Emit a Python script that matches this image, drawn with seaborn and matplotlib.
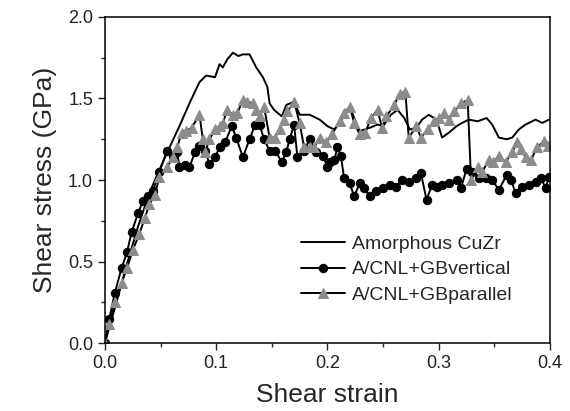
import numpy as np
import pandas as pd
import matplotlib
matplotlib.use('Agg')
import matplotlib.pyplot as plt
from matplotlib.ticker import AutoMinorLocator
import seaborn as sns

# Data
strain_amorph = [0, 0.01, 0.02, 0.03, 0.04, 0.045, 0.056, 0.067, 0.076, 0.085, 0.091, 0.099,
                 0.103, 0.106, 0.110, 0.115, 0.120, 0.124, 0.130, 0.136, 0.142, 0.146, 0.148,
                 0.152, 0.159, 0.163, 0.170, 0.175, 0.184, 0.193, 0.200, 0.206, 0.211, 0.220,
                 0.224, 0.229, 0.238, 0.245, 0.250, 0.257, 0.263, 0.269, 0.274, 0.280, 0.285,
                 0.291, 0.298, 0.303, 0.309, 0.316, 0.321, 0.327, 0.335, 0.343, 0.348, 0.354,
                 0.361, 0.366, 0.372, 0.378, 0.387, 0.393, 0.399]
stress_amorph = [0, 0.24, 0.49, 0.72, 0.92, 1.00, 1.17, 1.33, 1.47, 1.60, 1.64, 1.63,
                 1.71, 1.69, 1.74, 1.78, 1.76, 1.77, 1.77, 1.69, 1.63, 1.57, 1.47,
                 1.43, 1.39, 1.46, 1.48, 1.40, 1.40, 1.37, 1.33, 1.31, 1.35, 1.45,
                 1.38, 1.30, 1.32, 1.34, 1.33, 1.40, 1.43, 1.38, 1.31, 1.32, 1.37,
                 1.40, 1.37, 1.26, 1.29, 1.33, 1.35, 1.37, 1.36, 1.38, 1.34, 1.26,
                 1.25, 1.26, 1.31, 1.34, 1.37, 1.35, 1.37]

strain_vert = [0, 0.004, 0.009, 0.015, 0.020, 0.024, 0.030, 0.034, 0.039, 0.043, 0.049, 0.056,
               0.061, 0.065, 0.067, 0.072, 0.076, 0.081, 0.085, 0.090, 0.094, 0.099, 0.103,
               0.108, 0.114, 0.118, 0.124, 0.130, 0.135, 0.139, 0.143, 0.148, 0.153, 0.159,
               0.163, 0.166, 0.170, 0.173, 0.179, 0.184, 0.190, 0.196, 0.200, 0.202, 0.206,
               0.209, 0.212, 0.215, 0.220, 0.224, 0.229, 0.233, 0.238, 0.244, 0.250, 0.256,
               0.262, 0.267, 0.273, 0.280, 0.284, 0.289, 0.294, 0.298, 0.303, 0.309, 0.316,
               0.320, 0.325, 0.330, 0.336, 0.342, 0.348, 0.354, 0.361, 0.365, 0.369, 0.375,
               0.381, 0.387, 0.392, 0.396, 0.399]
stress_vert = [0, 0.15, 0.31, 0.46, 0.56, 0.68, 0.80, 0.87, 0.90, 0.93, 1.05, 1.18,
               1.15, 1.17, 1.08, 1.09, 1.08, 1.17, 1.21, 1.18, 1.10, 1.14, 1.20,
               1.23, 1.33, 1.26, 1.14, 1.25, 1.34, 1.34, 1.25, 1.18, 1.18, 1.11,
               1.17, 1.25, 1.34, 1.14, 1.18, 1.25, 1.17, 1.15, 1.08, 1.11, 1.12,
               1.20, 1.15, 1.01, 0.98, 0.90, 0.98, 0.95, 0.90, 0.93, 0.95, 0.97,
               0.96, 1.00, 0.99, 1.01, 1.04, 0.88, 0.97, 0.96, 0.97, 0.98, 1.00,
               0.95, 1.07, 1.05, 1.01, 1.01, 1.00, 0.94, 1.03, 1.00, 0.92, 0.96,
               0.97, 0.99, 1.01, 0.95, 1.02]

strain_par = [0, 0.004, 0.009, 0.015, 0.020, 0.025, 0.031, 0.036, 0.040, 0.045, 0.049, 0.056,
              0.061, 0.065, 0.069, 0.073, 0.078, 0.085, 0.088, 0.090, 0.094, 0.099, 0.103,
              0.106, 0.110, 0.115, 0.119, 0.124, 0.128, 0.133, 0.136, 0.139, 0.143, 0.148,
              0.153, 0.157, 0.161, 0.164, 0.170, 0.175, 0.179, 0.184, 0.188, 0.193, 0.199,
              0.204, 0.211, 0.215, 0.220, 0.224, 0.229, 0.234, 0.239, 0.245, 0.249, 0.253,
              0.260, 0.265, 0.270, 0.273, 0.280, 0.284, 0.290, 0.296, 0.300, 0.305, 0.309,
              0.314, 0.320, 0.326, 0.329, 0.335, 0.339, 0.345, 0.349, 0.354, 0.360, 0.366,
              0.370, 0.374, 0.378, 0.383, 0.388, 0.395, 0.398]
stress_par = [0, 0.12, 0.25, 0.37, 0.46, 0.57, 0.67, 0.77, 0.85, 0.91, 1.02, 1.08,
              1.14, 1.20, 1.29, 1.30, 1.32, 1.40, 1.25, 1.17, 1.25, 1.31, 1.33,
              1.35, 1.43, 1.40, 1.41, 1.49, 1.48, 1.47, 1.43, 1.39, 1.45, 1.26,
              1.26, 1.31, 1.37, 1.42, 1.48, 1.35, 1.20, 1.20, 1.20, 1.26, 1.23,
              1.28, 1.36, 1.41, 1.45, 1.35, 1.28, 1.29, 1.38, 1.43, 1.32, 1.39,
              1.46, 1.53, 1.54, 1.26, 1.33, 1.26, 1.31, 1.36, 1.38, 1.41, 1.37,
              1.42, 1.47, 1.49, 1.00, 1.08, 1.05, 1.12, 1.11, 1.15, 1.11, 1.17,
              1.23, 1.19, 1.14, 1.12, 1.20, 1.24, 1.21]

labels = ['Amorphous CuZr', 'A/CNL+GBvertical', 'A/CNL+GBparallel']

sns.set_style('ticks')
plt.rcParams['font.family'] = ['Liberation Sans', 'DejaVu Sans']

fig = plt.figure(figsize=(5.7, 4.11), dpi=100)
ax = fig.add_axes([0.184, 0.165, 0.781, 0.794])

sns.lineplot(x=strain_amorph, y=stress_amorph, sort=False, estimator=None,
             color='black', linewidth=1.4, label=labels[0], ax=ax)
sns.lineplot(x=strain_vert, y=stress_vert, sort=False, estimator=None,
             color='black', linewidth=1.4, marker='o', markersize=6,
             markeredgecolor='black', markerfacecolor='black', label=labels[1], ax=ax)
sns.lineplot(x=strain_par, y=stress_par, sort=False, estimator=None,
             color='black', linewidth=1.4, marker='^', markersize=7,
             markeredgecolor='#8c8c8c', markerfacecolor='#8c8c8c', label=labels[2], ax=ax)

ax.set_xlim(0, 0.4)
ax.set_ylim(0, 2.0)
ax.set_xticks([0.0, 0.1, 0.2, 0.3, 0.4])
ax.set_yticks([0.0, 0.5, 1.0, 1.5, 2.0])
ax.set_xticklabels(['0.0', '0.1', '0.2', '0.3', '0.4'])
ax.set_yticklabels(['0.0', '0.5', '1.0', '1.5', '2.0'])
ax.xaxis.set_minor_locator(AutoMinorLocator(2))
ax.yaxis.set_minor_locator(AutoMinorLocator(2))
ax.tick_params(which='major', direction='out', length=5, width=1, labelsize=13, colors='#222222')
ax.tick_params(which='minor', direction='out', length=3, width=1)
for s in ax.spines.values():
    s.set_linewidth(1.1)
    s.set_color('black')

ax.set_xlabel('Shear strain', fontsize=19, labelpad=8)
ax.set_ylabel('Shear stress (GPa)', fontsize=19, labelpad=8)

ax.legend(loc='upper left', bbox_to_anchor=(0.44, 0.33), frameon=False, fontsize=14,
          handlelength=2.3, handletextpad=0.35, labelspacing=0.4, borderpad=0, borderaxespad=0)

fig.savefig('out.png', dpi=100)
